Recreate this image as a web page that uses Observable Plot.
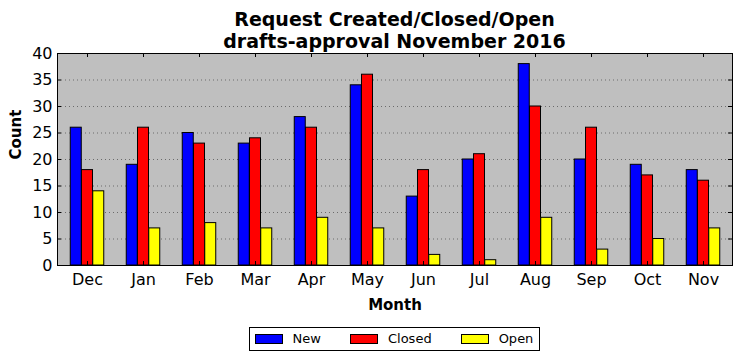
<!DOCTYPE html>
<html>
<head>
<meta charset="utf-8">
<script src="https://cdn.jsdelivr.net/npm/d3@7"></script>
<script src="https://cdn.jsdelivr.net/npm/@observablehq/plot@0.6"></script>
<style>
  body { margin: 0; background: #fff; font-family: "DejaVu Sans", sans-serif; }
  #wrap { width: 741px; height: 361px; position: relative; overflow: hidden; }
  #title { padding: 8px 9px 0 57px; text-align: center; font-weight: bold; font-size: 19px; line-height: 22px; color: #000; height: 44px; }
  #chart { margin-top: -9px; position: relative; }
  #legendRow { padding: 0 9px 0 57px; margin-top: 12px; display: flex; justify-content: center; }
  #legend { display: flex; align-items: center; border: 1px solid #000; padding: 4px 6px 4px 5px; font-size: 13px; line-height: 14px; }
  .item { display: flex; align-items: center; }
  .item + .item { margin-left: 29px; }
  .sw { width: 26px; height: 8px; border: 1px solid #000; margin-right: 10px; }
  svg { display: block; }
</style>
</head>
<body>
<div id="wrap">
  <div id="title">Request Created/Closed/Open<br>drafts-approval November 2016</div>
  <div id="chart"></div>
  <div id="legendRow"><div id="legend"></div></div>
</div>
<script>
const months = ["Dec","Jan","Feb","Mar","Apr","May","Jun","Jul","Aug","Sep","Oct","Nov"];
const series = ["New","Closed","Open"];
const colors = ["#0000ff","#ff0000","#ffff00"];
const newVals    = [26,19,25,23,28,34,13,20,38,20,19,18];
const closedVals = [18,26,23,24,26,36,18,21,30,26,17,16];
const openVals   = [14, 7, 8, 7, 9, 7, 2, 1, 9, 3, 5, 7];
const yTicks = [0,5,10,15,20,25,30,35,40];

const table = months.map((m, i) => ({month: m, New: newVals[i], Closed: closedVals[i], Open: openVals[i]}));

const W = 741, H = 272;
const mL = 57, mR = 9, mT = 10, mB = 50;
const plotW = W - mL - mR, plotH = H - mT - mB;
const bw = plotW / months.length;
const groupFrac = 0.6;
const barW = bw * groupFrac / series.length;

const bars = series.map((s, i) => Plot.barY(table, {
  x: "month", y: s, fill: colors[i], stroke: "#000", strokeWidth: 1,
  insetLeft: bw * (1 - groupFrac) / 2 + i * barW,
  insetRight: bw * (1 - groupFrac) / 2 + (series.length - 1 - i) * barW
}));

const chart = Plot.plot({
  width: W, height: H,
  marginLeft: mL, marginRight: mR, marginTop: mT, marginBottom: mB,
  style: {fontFamily: "DejaVu Sans, sans-serif", fontSize: "16px", color: "#000", background: "transparent", overflow: "visible"},
  x: {domain: months, padding: 0, axis: null},
  y: {domain: [0, 40], axis: null},
  marks: [
    Plot.frame({fill: "#bfbfbf"}),
    Plot.ruleY(yTicks.slice(1, -1), {stroke: "#333", strokeWidth: 0.6, strokeDasharray: "1,3"}),
    ...bars,
    Plot.tickY(yTicks, {y: d => d, stroke: "#000", insetRight: plotW - 4}),
    Plot.tickY(yTicks, {y: d => d, stroke: "#000", insetLeft: plotW - 4}),
    Plot.tickX(months, {x: d => d, stroke: "#000", insetBottom: plotH - 4}),
    Plot.tickX(months, {x: d => d, stroke: "#000", insetTop: plotH - 4}),
    Plot.frame({stroke: "#000", strokeWidth: 1}),
    Plot.axisY(yTicks, {tickSize: 0, tickPadding: 5, fontSize: 16, label: null}),
    Plot.axisX({tickSize: 0, tickPadding: 8, fontSize: 16, label: null}),
    Plot.text(["Count"], {frameAnchor: "left", dx: -41, rotate: -90, fontWeight: "bold", fontSize: 15}),
    Plot.text(["Month"], {frameAnchor: "bottom", dy: 44, fontWeight: "bold", fontSize: 15})
  ]
});
document.getElementById("chart").appendChild(chart);

const legend = document.getElementById("legend");
series.forEach((s, i) => {
  const it = document.createElement("div");
  it.className = "item";
  const sw = document.createElement("div");
  sw.className = "sw";
  sw.style.background = colors[i];
  const t = document.createElement("span");
  t.textContent = s;
  it.appendChild(sw); it.appendChild(t);
  legend.appendChild(it);
});
</script>
</body>
</html>
